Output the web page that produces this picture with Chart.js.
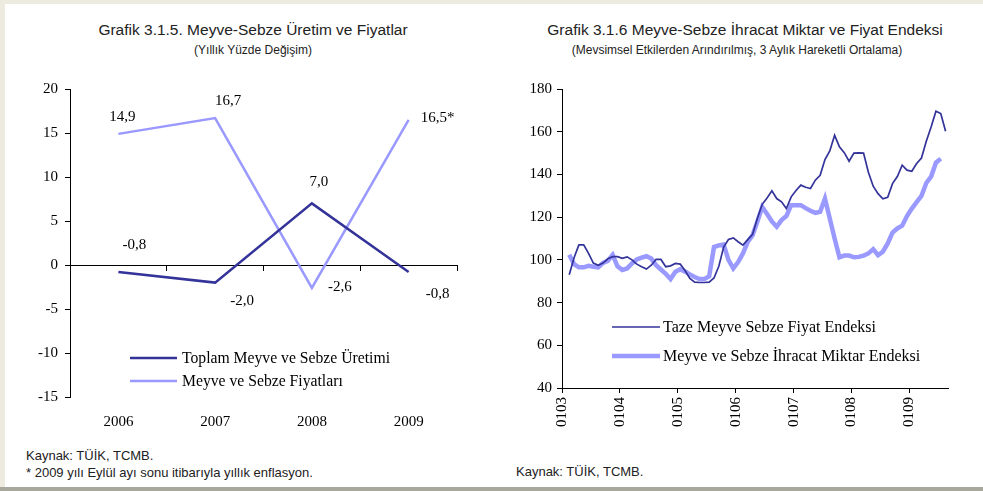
<!DOCTYPE html>
<html lang="tr">
<head>
<meta charset="utf-8">
<title>Meyve-Sebze Üretim, Fiyat ve İhracat</title>
<script src="https://cdn.jsdelivr.net/npm/chart.js@4/dist/chart.umd.min.js"></script>
<style>
  html, body { margin: 0; padding: 0; background: #fff; }
  body { width: 983px; height: 491px; position: relative; overflow: hidden;
         font-family: "Liberation Sans", Arial, sans-serif; color: #111; }
  .band-top { position: absolute; left: 0; top: 0; width: 983px; height: 4px; background: #EDEBDF; }
  .band-left { position: absolute; left: 0; top: 0; width: 5px; height: 491px; background: #EDEBDF; }
  .band-bottom { position: absolute; left: 0; bottom: 0; width: 983px; height: 4px; background: #A9A89C; }
  .title { position: absolute; width: 500px; text-align: center; font-size: 15.5px; font-weight: normal;
           line-height: 18px; white-space: nowrap; color: #222; }
  .sub { position: absolute; width: 500px; text-align: center; font-size: 12px; line-height: 14px; white-space: nowrap; color: #222; }
  .note { position: absolute; font-size: 13px; line-height: 15px; white-space: nowrap; color: #222; }
  canvas { position: absolute; top: 0; }
</style>
</head>
<body>
<div class="band-top"></div>
<div class="band-left"></div>
<div class="band-bottom"></div>

<div class="title" style="left:3px; top:21px;">Grafik 3.1.5. Meyve-Sebze Üretim ve Fiyatlar</div>
<div class="sub" style="left:3px; top:43px;">(Yıllık Yüzde Değişim)</div>
<div class="title" style="left:495px; top:21px;">Grafik 3.1.6 Meyve-Sebze İhracat Miktar ve Fiyat Endeksi</div>
<div class="sub" style="left:487px; top:43px;">(Mevsimsel Etkilerden Arındırılmış, 3 Aylık Hareketli Ortalama)</div>

<canvas id="left" width="490" height="440" style="left:0;"></canvas>
<canvas id="right" width="493" height="440" style="left:490px;"></canvas>

<div class="note" style="left:26px; top:448px;">Kaynak: TÜİK, TCMB.</div>
<div class="note" style="left:26px; top:465px;">* 2009 yılı Eylül ayı sonu itibarıyla yıllık enflasyon.</div>
<div class="note" style="left:516px; top:464px;">Kaynak: TÜİK, TCMB.</div>

<script>
// ---- Grafik 3.1.5: annual % change ----
const years = ['2006', '2007', '2008', '2009'];
const productionChange = [-0.8, -2.0, 7.0, -0.8];   // Toplam Meyve ve Sebze Üretimi
const priceChange = [14.9, 16.7, -2.6, 16.5];       // Meyve ve Sebze Fiyatları
const priceNotes = ['', '', '', '*'];               // 2009: end-September annual inflation
const leftTicks = [-15, -10, -5, 0, 5, 10, 15, 20];

// ---- Grafik 3.1.6: monthly indices, Feb 2003 onwards ----
const yearTicks = ['0103', '0104', '0105', '0106', '0107', '0108', '0109'];
const seriesStart = 1; // first observation: February 2003 (months after 01/2003)
const freshPriceIndex = [
  93, 101, 107, 107, 103, 98.5, 97.5, 98.5, 100.5, 101.5, 101.5,
  100.7, 101.4, 100, 98, 96.8, 95.7, 97.5, 100.2, 100.2, 96.8, 97.2, 98.3,
  98, 95, 91.3, 89.6, 89.4, 89.4, 89.6, 91.5, 97, 106, 109.5, 110.3,
  108.5, 106.9, 109.5, 112, 119.5, 126, 129, 132.3, 128.7, 127.2, 124, 129.5,
  132.5, 135, 134, 133.4, 137.3, 139.6, 147, 151, 158.3, 152.9, 150.2, 146.2,
  150, 150.1, 150, 141, 134.5, 131, 128.6, 129.3, 135.7, 139, 144.3, 142,
  141.5, 145.1, 147.7, 155.5, 162.2, 169.6, 168.5, 160.2
];
const exportVolumeIndex = [
  102.4, 98, 96.5, 96.5, 97.2, 96.8, 96.5, 98.6, 99.5, 102.3, 97,
  95.3, 96, 98.3, 100.2, 101, 101.7, 100.6, 97.5, 95.5, 93.5, 91, 94.4,
  95.6, 94.5, 93.2, 92, 91, 91, 92.3, 106, 106.8, 107.2, 100, 96,
  99, 103, 108.4, 111.6, 118, 124.8, 121.5, 118, 115.5, 118.6, 120.5, 125.6,
  125.6, 125.6, 124.2, 123, 122, 122.5, 128.7, 119.4, 110, 101.2, 102, 102,
  101.2, 101.4, 102, 103, 105, 102.2, 103.8, 107.7, 112.8, 114.7, 116, 120.5,
  124, 127, 130, 136, 139, 145.5, 147.4
];

const DARK = '#333399';
const LIGHT = '#9999FF';
const SERIF = '"Liberation Serif", "Times New Roman", serif';

Chart.defaults.font.family = SERIF;
Chart.defaults.font.size = 15;
Chart.defaults.color = '#000';

const fmtComma = v => v.toFixed(1).replace('.', ',');

// Legend drawn as line samples with labels inside the plot area
const lineLegend = {
  id: 'lineLegend',
  afterDraw(chart, args, opts) {
    const ctx = chart.ctx;
    ctx.save();
    chart.data.datasets.forEach((ds, i) => {
      const y = opts.y + i * opts.gap;
      ctx.strokeStyle = ds.borderColor;
      ctx.lineWidth = opts.widths ? opts.widths[i] : ds.borderWidth;
      ctx.lineCap = 'butt';
      ctx.beginPath();
      ctx.moveTo(opts.x, y);
      ctx.lineTo(opts.x + opts.len, y);
      ctx.stroke();
      ctx.fillStyle = '#000';
      ctx.font = opts.font;
      ctx.textAlign = 'left';
      ctx.textBaseline = 'middle';
      ctx.fillText(ds.label, opts.x + opts.len + opts.textGap, y + 1);
    });
    ctx.restore();
  }
};

// Value labels beside each point of the annual chart
const valueLabels = {
  id: 'valueLabels',
  afterDatasetsDraw(chart, args, opts) {
    const ctx = chart.ctx;
    ctx.save();
    ctx.font = opts.font;
    ctx.fillStyle = '#000';
    ctx.textAlign = 'center';
    ctx.textBaseline = 'middle';
    chart.data.datasets.forEach((ds, i) => {
      const meta = chart.getDatasetMeta(i);
      meta.data.forEach((pt, j) => {
        const [dx, dy] = opts.offsets[i][j];
        const text = fmtComma(ds.data[j]) + (opts.suffixes[i][j] || '');
        ctx.fillText(text, pt.x + dx, pt.y + dy);
      });
    });
    ctx.restore();
  }
};

new Chart(document.getElementById('left'), {
  type: 'line',
  data: {
    labels: years,
    datasets: [
      { label: 'Toplam Meyve ve Sebze Üretimi', data: productionChange,
        borderColor: DARK, borderWidth: 2.5, pointRadius: 0, tension: 0 },
      { label: 'Meyve ve Sebze Fiyatları', data: priceChange,
        borderColor: LIGHT, borderWidth: 2.5, pointRadius: 0, tension: 0 }
    ]
  },
  options: {
    responsive: false,
    animation: false,
    devicePixelRatio: 1,
    layout: { padding: { left: 0, top: 89, right: 33, bottom: 0 } },
    plugins: {
      legend: { display: false },
      tooltip: { enabled: false },
      lineLegend: { x: 130, y: 358, gap: 23, len: 47, textGap: 5,
                    font: '15.7px ' + SERIF },
      valueLabels: {
        font: '15px ' + SERIF,
        suffixes: [['', '', '', ''], priceNotes],
        offsets: [
          [[16, -27], [27, 18], [7, -21], [29, 22]],
          [[4, -17], [13, -17], [28, -1], [29, -2]]
        ]
      }
    },
    scales: {
      x: {
        type: 'category', offset: true,
        grid: { display: false, drawTicks: false },
        border: { display: false },
        ticks: { padding: 16, font: { size: 15 } },
        afterFit: s => { s.height = 43; }
      },
      x2: {
        type: 'category', labels: years, offset: true,
        position: { y: 0 },
        grid: { offset: true, drawOnChartArea: false, tickLength: 5, color: '#000', lineWidth: 1 },
        border: { color: '#000', width: 1 },
        ticks: { display: false }
      },
      y: {
        min: -15, max: 20,
        afterBuildTicks: s => { s.ticks = leftTicks.map(v => ({ value: v })); },
        grid: { drawOnChartArea: false, tickLength: 5, color: '#000' },
        border: { color: '#000', width: 1 },
        ticks: { padding: 7, font: { size: 15 } },
        afterFit: s => { s.width = 70; }
      }
    }
  },
  plugins: [lineLegend, valueLabels]
});

new Chart(document.getElementById('right'), {
  type: 'line',
  data: {
    datasets: [
      { label: 'Taze Meyve Sebze Fiyat Endeksi',
        data: freshPriceIndex.map((v, i) => ({ x: seriesStart + i + 0.5, y: v })),
        borderColor: DARK, borderWidth: 1.7, pointRadius: 0, tension: 0 },
      { label: 'Meyve ve Sebze İhracat Miktar Endeksi',
        data: exportVolumeIndex.map((v, i) => ({ x: seriesStart + i + 0.5, y: v })),
        borderColor: LIGHT, borderWidth: 4.5, pointRadius: 0, tension: 0 }
    ]
  },
  options: {
    responsive: false,
    animation: false,
    devicePixelRatio: 1,
    layout: { padding: { left: 0, top: 89, right: 35, bottom: 0 } },
    plugins: {
      legend: { display: false },
      tooltip: { enabled: false },
      lineLegend: { x: 122, y: 327, gap: 29, len: 48, textGap: 3,
                    font: '16px ' + SERIF, widths: [1.7, 4.5] }
    },
    scales: {
      x: {
        type: 'linear', min: 0, max: seriesStart + freshPriceIndex.length,
        afterBuildTicks: s => { s.ticks = yearTicks.map((t, i) => ({ value: i * 12 })); },
        grid: { drawOnChartArea: false, tickLength: 5, color: '#000' },
        border: { color: '#000', width: 1 },
        ticks: {
          autoSkip: false, minRotation: 90, maxRotation: 90, padding: 4,
          font: { size: 15 },
          callback: v => yearTicks[Math.round(v / 12)]
        },
        afterFit: s => { s.height = 52; }
      },
      y: {
        min: 40, max: 180,
        ticks: { stepSize: 20, padding: 5, font: { size: 15 } },
        grid: { drawOnChartArea: false, tickLength: 5, color: '#000' },
        border: { color: '#000', width: 1 },
        afterFit: s => { s.width = 72; }
      }
    }
  },
  plugins: [lineLegend]
});
</script>
</body>
</html>
